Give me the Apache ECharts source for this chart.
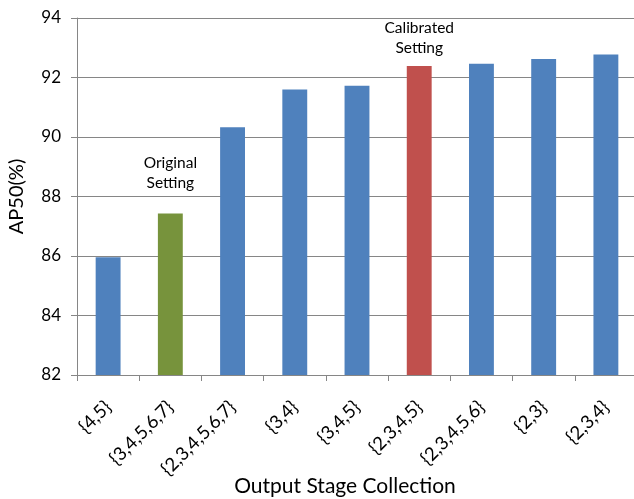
<!DOCTYPE html>
<html>
<head>
    <meta charset="UTF-8">
    <title>AP50 by output stage collection</title>
    <script type="text/javascript" src="https://cdn.jsdelivr.net/npm/echarts@6/dist/echarts.min.js"></script>
    <style type="text/css">
        html, body { margin: 0; padding: 0; background: #fff; }
    </style>
</head>
<body>
<div id="main" style="width: 634px; height: 499px;"></div>
<script>
// 数据
var categories = ['{4,5}', '{3,4,5,6,7}', '{2,3,4,5,6,7}', '{3,4}', '{3,4,5}', '{2,3,4,5}', '{2,3,4,5,6}', '{2,3}', '{2,3,4}'];
var ap50 = [85.96, 87.43, 90.33, 91.60, 91.72, 92.39, 92.46, 92.62, 92.77];
var notes = ['', 'Original\nSetting', '', '', '', 'Calibrated\nSetting', '', '', ''];
var yTicks = [82, 84, 86, 88, 90, 92, 94];

var FONT = 'Lato, "Open Sans", sans-serif';
var BLUE = '#4f81bd', GREEN = '#77933c', RED = '#c0504d';
var barColor = {1: GREEN, 5: RED};
var noteGap = {1: 20, 5: 8};

var myChart = echarts.init(document.getElementById('main'));
myChart.setOption({
    animation: false,
    grid: { left: 77, right: -3, top: 18, bottom: 124, containLabel: false, outerBoundsMode: 'none' },
    xAxis: {
        type: 'category',
        data: categories,
        name: 'Output Stage Collection',
        nameLocation: 'middle',
        nameGap: 101,
        nameMoveOverlap: false,
        nameTextStyle: { fontFamily: FONT, fontSize: 21, color: '#000', padding: [0, 24, 0, 0] },
        axisLine: { lineStyle: { color: '#868686', width: 1 } },
        axisTick: { show: true, length: 6, lineStyle: { color: '#868686' } },
        axisLabel: { rotate: 45, fontFamily: FONT, fontSize: 18.5, color: '#000', margin: 29 }
    },
    yAxis: {
        type: 'value',
        min: yTicks[0],
        max: yTicks[yTicks.length - 1],
        interval: 2,
        name: 'AP50(%)',
        nameLocation: 'middle',
        nameGap: 50,
        nameTextStyle: { fontFamily: FONT, fontSize: 20, color: '#000' },
        axisLine: { show: true, lineStyle: { color: '#868686', width: 1 } },
        axisTick: { show: true, length: 6, lineStyle: { color: '#868686' } },
        splitLine: { lineStyle: { color: '#868686', width: 1 } },
        axisLabel: { fontFamily: FONT, fontSize: 17, color: '#000', margin: 16 }
    },
    series: [{
        type: 'bar',
        barWidth: '40%',
        data: ap50.map(function (v, i) {
            var item = { value: v, itemStyle: { color: barColor[i] || BLUE } };
            if (notes[i]) {
                item.label = {
                    show: true,
                    position: 'top',
                    distance: noteGap[i],
                    formatter: notes[i],
                    fontFamily: FONT,
                    fontSize: 15.5,
                    lineHeight: 20,
                    color: '#000'
                };
            }
            return item;
        })
    }]
});
</script>
</body>
</html>
